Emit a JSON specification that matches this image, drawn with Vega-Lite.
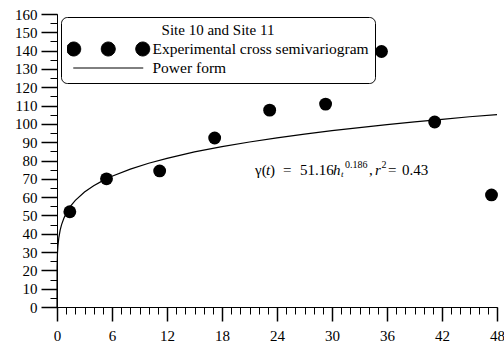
{
  "$schema": "https://vega.github.io/schema/vega-lite/v6.json",
  "width": 440,
  "height": 293,
  "autosize": "none",
  "padding": {"left": 57, "top": 14, "right": 7, "bottom": 38},
  "background": "white",
  "config": {
    "font": "Liberation Serif",
    "view": {"stroke": null},
    "axis": {"grid": false, "domainColor": "black", "tickColor": "black", "labelColor": "black", "labelFont": "Liberation Serif", "labelFontSize": 15, "title": null}
  },
  "datasets": {
    "points": [
      {"lag": 1.4, "gamma": 52},
      {"lag": 5.4, "gamma": 70},
      {"lag": 11.2, "gamma": 74.3},
      {"lag": 17.2, "gamma": 92.3},
      {"lag": 23.2, "gamma": 107.5},
      {"lag": 29.3, "gamma": 110.8},
      {"lag": 35.4, "gamma": 139.5},
      {"lag": 41.2, "gamma": 101},
      {"lag": 47.4, "gamma": 61.2}
    ],
    "curve": [
      {"lag": 0, "gamma": 0},
      {"lag": 0.01, "gamma": 21.8},
      {"lag": 0.05, "gamma": 29.3},
      {"lag": 0.1, "gamma": 33.3},
      {"lag": 0.2, "gamma": 37.9},
      {"lag": 0.35, "gamma": 42.1},
      {"lag": 0.5, "gamma": 45.0},
      {"lag": 0.75, "gamma": 48.5},
      {"lag": 1, "gamma": 51.2},
      {"lag": 1.5, "gamma": 55.2},
      {"lag": 2, "gamma": 58.2},
      {"lag": 3, "gamma": 62.8},
      {"lag": 4, "gamma": 66.2},
      {"lag": 5, "gamma": 69.0},
      {"lag": 6, "gamma": 71.4},
      {"lag": 8, "gamma": 75.3},
      {"lag": 10, "gamma": 78.5},
      {"lag": 12, "gamma": 81.2},
      {"lag": 15, "gamma": 84.7},
      {"lag": 18, "gamma": 87.6},
      {"lag": 21, "gamma": 90.1},
      {"lag": 24, "gamma": 92.4},
      {"lag": 27, "gamma": 94.4},
      {"lag": 30, "gamma": 96.3},
      {"lag": 33, "gamma": 98.0},
      {"lag": 36, "gamma": 99.6},
      {"lag": 39, "gamma": 101.1},
      {"lag": 42, "gamma": 102.5},
      {"lag": 45, "gamma": 103.9},
      {"lag": 48, "gamma": 105.1}
    ]
  },
  "resolve": {"axis": {"x": "independent", "y": "independent"}},
  "layer": [
    {
      "data": {"name": "curve"},
      "mark": {"type": "line", "strokeWidth": 1.2, "color": "black"},
      "encoding": {
        "x": {"field": "lag", "type": "quantitative", "scale": {"domain": [0, 48], "nice": false, "zero": true},
              "axis": {"orient": "bottom", "values": [0, 6, 12, 18, 24, 30, 36, 42, 48], "tickSize": 14, "tickWidth": 1.5, "domainWidth": 1, "labelPadding": 7, "labelFlush": false, "labelOverlap": false, "labelFont": "Liberation Serif", "labelFontSize": 15, "labelColor": "black"}},
        "y": {"field": "gamma", "type": "quantitative", "scale": {"domain": [0, 160], "nice": false},
              "axis": {"orient": "left", "values": [0, 10, 20, 30, 40, 50, 60, 70, 80, 90, 100, 110, 120, 130, 140, 150, 160], "tickSize": 16, "tickWidth": 1.5, "domainWidth": 1, "labelPadding": 4, "labelFlush": false, "labelOverlap": false, "labelFont": "Liberation Serif", "labelFontSize": 15, "labelColor": "black"}}
      }
    },
    {
      "data": {"name": "points"},
      "mark": {"type": "circle", "size": 165, "opacity": 1},
      "encoding": {
        "x": {"field": "lag", "type": "quantitative",
              "axis": {"orient": "bottom", "values": [0,1,2,3,4,5,6,7,8,9,10,11,12,13,14,15,16,17,18,19,20,21,22,23,24,25,26,27,28,29,30,31,32,33,34,35,36,37,38,39,40,41,42,43,44,45,46,47,48], "tickSize": 7, "tickWidth": 1, "labels": false, "domain": false}},
        "y": {"field": "gamma", "type": "quantitative",
              "axis": {"orient": "left", "values": [0,5,10,15,20,25,30,35,40,45,50,55,60,65,70,75,80,85,90,95,100,105,110,115,120,125,130,135,140,145,150,155,160], "tickSize": 7, "tickWidth": 1, "labels": false, "domain": false}},
        "color": {
          "datum": "Experimental cross semivariogram",
          "scale": {"domain": ["Experimental cross semivariogram", "Power form"], "range": ["black", "black"]},
          "legend": {
            "title": "Site 10 and Site 11",
            "orient": "none", "legendX": 4, "legendY": 3,
            "strokeColor": "black", "cornerRadius": 6, "padding": 6,
            "titleFont": "Liberation Serif", "titleFontSize": 15, "titleFontWeight": "normal", "titleColor": "black", "titlePadding": 3, "titleAnchor": "middle",
            "labelFont": "Liberation Serif", "labelFontSize": 15.5, "labelColor": "black", "labelLimit": 0,
            "labelOffset": 36.5, "symbolOffset": 33.5, "symbolSize": 196, "rowPadding": 2, "clipHeight": 16,
            "symbolStrokeColor": "black", "symbolStrokeWidth": 1, "symbolFillColor": "black", "symbolOpacity": 1,
            "symbolType": {"expr": "datum.value === 'Power form' ? 'M-5,0L5,0' : 'M-5.93,0A1,1,0,1,1,-3.93,0A1,1,0,1,1,-5.93,0ZM-1,0A1,1,0,1,1,1,0A1,1,0,1,1,-1,0ZM3.93,0A1,1,0,1,1,5.93,0A1,1,0,1,1,3.93,0Z'"}
          }
        }
      }
    },
    {
      "data": {"values": [{}]},
      "encoding": {
        "x": {"datum": 21.6, "type": "quantitative", "axis": null},
        "y": {"datum": 74.8, "type": "quantitative", "axis": null}
      },
      "layer": [
        {"mark": {"type": "text", "text": "γ(", "font": "Liberation Serif", "align": "left", "baseline": "middle", "fontSize": 15, "color": "black", "dx": 0}},
        {"mark": {"type": "text", "text": "t", "font": "Liberation Serif", "fontStyle": "italic", "align": "left", "baseline": "middle", "fontSize": 15, "color": "black", "dx": 11}},
        {"mark": {"type": "text", "text": ")", "font": "Liberation Serif", "align": "left", "baseline": "middle", "fontSize": 15, "color": "black", "dx": 15}},
        {"mark": {"type": "text", "text": "=", "font": "Liberation Serif", "align": "left", "baseline": "middle", "fontSize": 15, "color": "black", "dx": 28}},
        {"mark": {"type": "text", "text": "51.16", "font": "Liberation Serif", "align": "left", "baseline": "middle", "fontSize": 15, "color": "black", "dx": 45}},
        {"mark": {"type": "text", "text": "h", "font": "Liberation Serif", "fontStyle": "italic", "align": "left", "baseline": "middle", "fontSize": 15, "color": "black", "dx": 78}},
        {"mark": {"type": "text", "text": "t", "font": "Liberation Serif", "fontStyle": "italic", "align": "left", "baseline": "middle", "fontSize": 9, "color": "black", "dx": 86, "dy": 4}},
        {"mark": {"type": "text", "text": "0.186", "font": "Liberation Serif", "align": "left", "baseline": "middle", "fontSize": 10, "color": "black", "dx": 90, "dy": -5}},
        {"mark": {"type": "text", "text": ",", "font": "Liberation Serif", "align": "left", "baseline": "middle", "fontSize": 15, "color": "black", "dx": 114}},
        {"mark": {"type": "text", "text": "r", "font": "Liberation Serif", "fontStyle": "italic", "align": "left", "baseline": "middle", "fontSize": 15, "color": "black", "dx": 120}},
        {"mark": {"type": "text", "text": "2", "font": "Liberation Serif", "align": "left", "baseline": "middle", "fontSize": 10, "color": "black", "dx": 126.5, "dy": -5}},
        {"mark": {"type": "text", "text": "=", "font": "Liberation Serif", "align": "left", "baseline": "middle", "fontSize": 15, "color": "black", "dx": 133}},
        {"mark": {"type": "text", "text": "0.43", "font": "Liberation Serif", "align": "left", "baseline": "middle", "fontSize": 15, "color": "black", "dx": 147}}
      ]
    }
  ]
}
